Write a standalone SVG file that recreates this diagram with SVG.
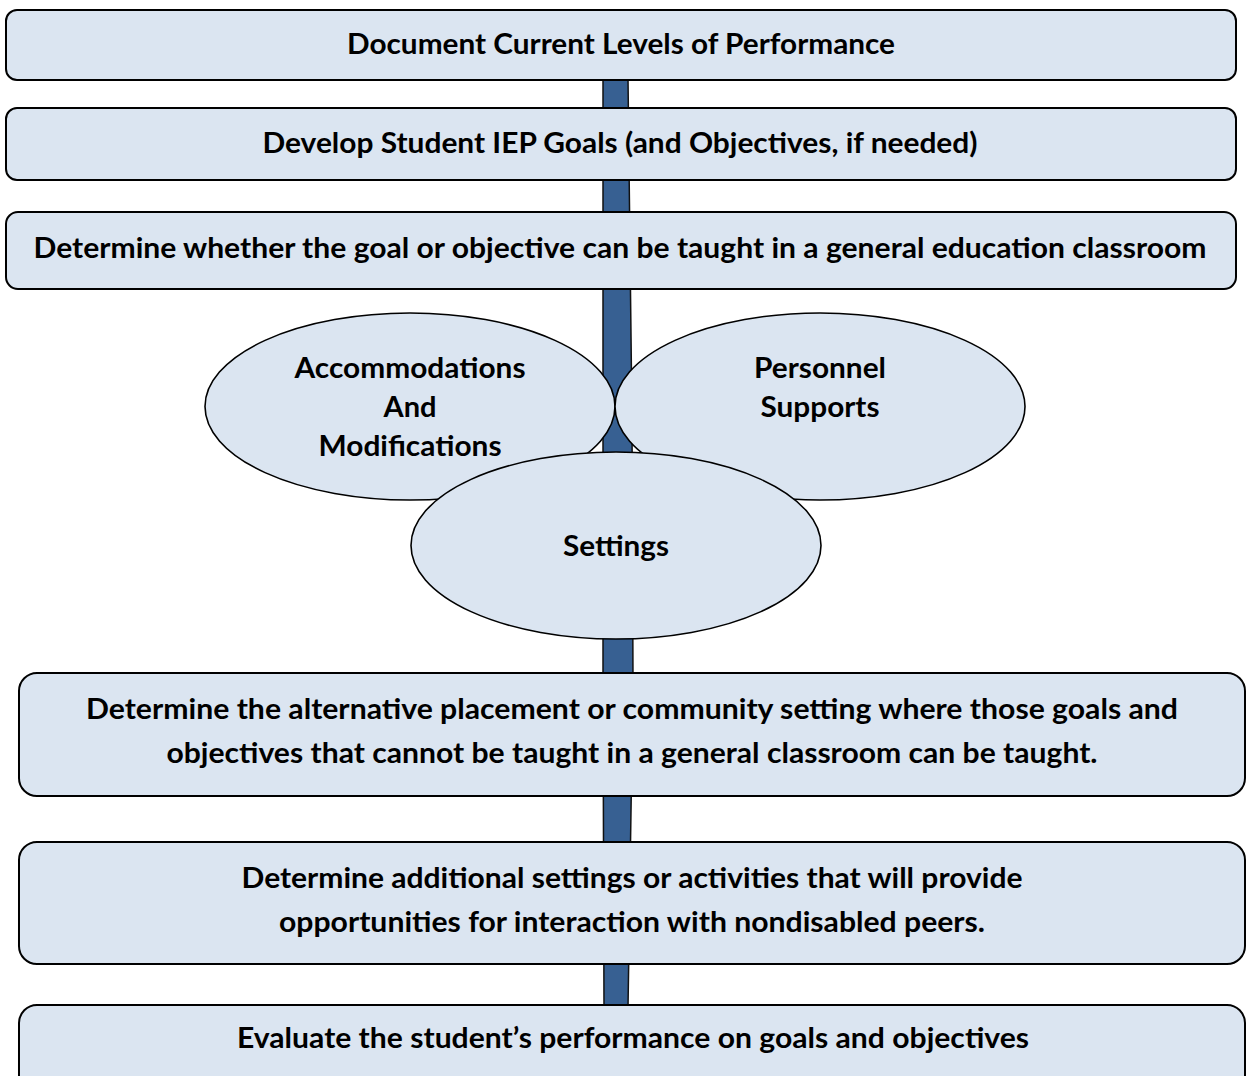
<svg xmlns="http://www.w3.org/2000/svg" width="1246" height="1076" viewBox="0 0 1246 1076">
<style>
.box{fill:#DBE5F1;stroke:#000;stroke-width:2}
.ell{fill:#DBE5F1;stroke:#000;stroke-width:1.6}
.t{font-family:Lato,"Open Sans","Liberation Sans",sans-serif;font-weight:700;font-size:28px;fill:#000;text-anchor:middle}
.bar{fill:#376092;stroke:#111;stroke-width:1.5}
</style>
<rect width="1246" height="1076" fill="#fff"/>
<g id="connectors">
<path class="bar" d="M603,78 L628,78 L632,420 L633,680 L628,1008 L604,1008 L603,680 L603,420 Z"/>
</g>
<g id="n1"><rect class="box" x="6" y="10" width="1230" height="70" rx="11"/>
<text class="t" x="621" y="54" textLength="548" lengthAdjust="spacingAndGlyphs">Document Current Levels of Performance</text></g>
<g id="n2"><rect class="box" x="6" y="108" width="1230" height="72" rx="11"/>
<text class="t" x="620" y="153" textLength="715" lengthAdjust="spacingAndGlyphs">Develop Student IEP Goals (and Objectives, if needed)</text></g>
<g id="n3"><rect class="box" x="6" y="212" width="1230" height="77" rx="12"/>
<text class="t" x="620" y="258" textLength="1173" lengthAdjust="spacingAndGlyphs">Determine whether the goal or objective can be taught in a general education classroom</text></g>
<g id="n4"><ellipse class="ell" cx="410" cy="406.5" rx="205" ry="93.5"/>
<text class="t" x="410" y="378" textLength="231" lengthAdjust="spacingAndGlyphs">Accommodations</text>
<text class="t" x="410" y="417" textLength="53" lengthAdjust="spacingAndGlyphs">And</text>
<text class="t" x="410" y="456" textLength="183" lengthAdjust="spacingAndGlyphs">Modifications</text></g>
<g id="n5"><ellipse class="ell" cx="820" cy="406.5" rx="205" ry="93.5"/>
<text class="t" x="820" y="378" textLength="132" lengthAdjust="spacingAndGlyphs">Personnel</text>
<text class="t" x="820" y="417" textLength="119" lengthAdjust="spacingAndGlyphs">Supports</text></g>
<g id="n6"><ellipse class="ell" cx="616" cy="545.5" rx="205" ry="93.5"/>
<text class="t" x="616" y="556" textLength="106" lengthAdjust="spacingAndGlyphs">Settings</text></g>
<g id="n7"><rect class="box" x="19" y="673" width="1226" height="123" rx="18"/>
<text class="t" x="632" y="719" textLength="1092" lengthAdjust="spacingAndGlyphs">Determine the alternative placement or community setting where those goals and</text>
<text class="t" x="632" y="763" textLength="931" lengthAdjust="spacingAndGlyphs">objectives that cannot be taught in a general classroom can be taught.</text></g>
<g id="n8"><rect class="box" x="19" y="842" width="1226" height="122" rx="18"/>
<text class="t" x="632" y="888" textLength="781" lengthAdjust="spacingAndGlyphs">Determine additional settings or activities that will provide</text>
<text class="t" x="632" y="932" textLength="706" lengthAdjust="spacingAndGlyphs">opportunities for interaction with nondisabled peers.</text></g>
<g id="n9"><rect class="box" x="19" y="1005" width="1226" height="110" rx="18"/>
<text class="t" x="633" y="1048" textLength="792" lengthAdjust="spacingAndGlyphs">Evaluate the student’s performance on goals and objectives</text></g>
</svg>
